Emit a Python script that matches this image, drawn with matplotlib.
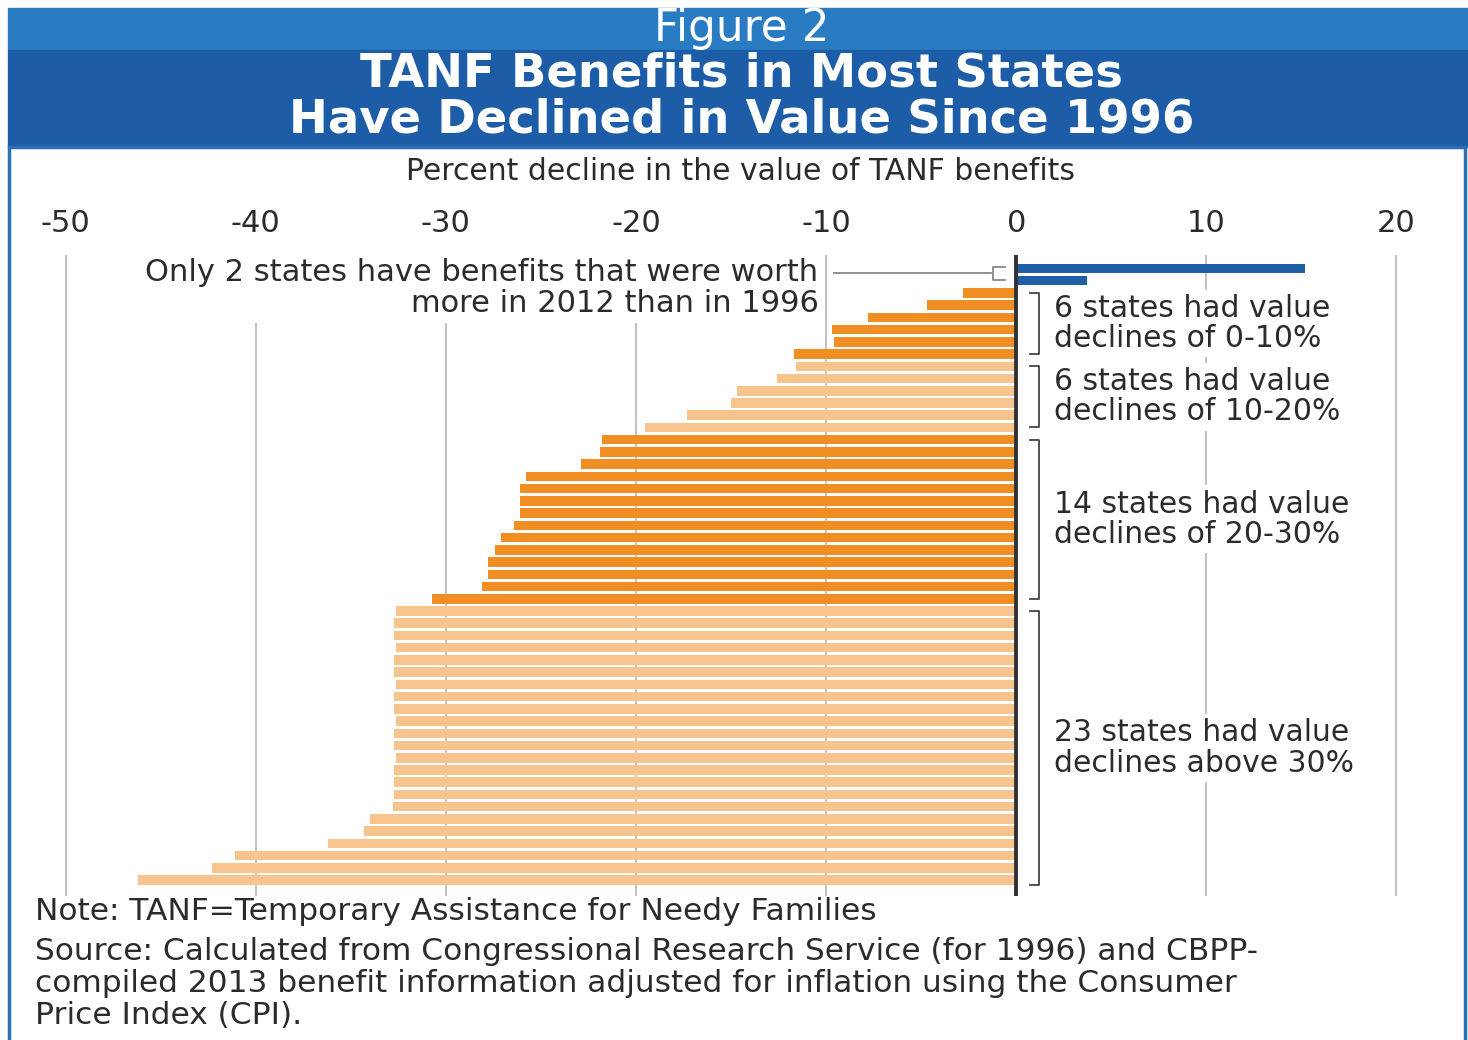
import matplotlib
matplotlib.use('Agg')
import matplotlib.pyplot as plt
from matplotlib.patches import Rectangle

# 数据：各州 TANF 福利价值变化（%），从上到下
gain_values = [15.2, 3.7]
decline_0_10 = [-2.8, -4.7, -7.8, -9.7, -9.6, -11.7]
decline_10_20 = [-11.6, -12.6, -14.7, -15.0, -17.3, -19.5]
decline_20_30 = [-21.8, -21.9, -22.9, -25.8, -26.1, -26.1, -26.1, -26.4,
                 -27.1, -27.4, -27.8, -27.8, -28.1, -30.7]
decline_30_up = [-32.6, -32.7, -32.7, -32.6, -32.7, -32.7, -32.6, -32.7,
                 -32.7, -32.6, -32.7, -32.7, -32.6, -32.7, -32.7, -32.7,
                 -32.8, -34.0, -34.3, -36.2, -41.1, -42.3, -46.2]
x_ticks = [-50, -40, -30, -20, -10, 0, 10, 20]
group_labels = ['6 states had value\ndeclines of 0-10%',
                '6 states had value\ndeclines of 10-20%',
                '14 states had value\ndeclines of 20-30%',
                '23 states had value\ndeclines above 30%']

blue = '#1E5FA6'
dark_orange = '#F08E24'
light_orange = '#F7C48E'
grey_txt = '#2b2b2b'

W, H = 1468, 1040
fig = plt.figure(figsize=(W / 100, H / 100), dpi=100)
fig.patch.set_facecolor('white')


def fy(py):
    return 1 - py / H


def fx(px):
    return px / W


# 标题栏
fig.patches.append(Rectangle((fx(8), fy(50)), fx(1460), fy(8) - fy(50),
                             transform=fig.transFigure, color='#2A7CC2', zorder=0))
fig.patches.append(Rectangle((fx(8), fy(147)), fx(1460), fy(50) - fy(147),
                             transform=fig.transFigure, color='#1D5CA6', zorder=0))
# 外框
fig.patches.append(Rectangle((fx(9), fy(1045)), fx(1456), fy(147) - fy(1045),
                             transform=fig.transFigure, fill=False,
                             edgecolor='#2A6FB8', lw=2.5, zorder=0))

fig.text(fx(742), fy(28), 'Figure 2', color='white', fontsize=31.5,
         ha='center', va='center')
fig.text(fx(742), fy(74), 'TANF Benefits in Most States', color='white',
         fontsize=33.5, fontweight='bold', ha='center', va='center')
fig.text(fx(742), fy(120), 'Have Declined in Value Since 1996', color='white',
         fontsize=33.5, fontweight='bold', ha='center', va='center')
fig.text(fx(740), fy(172), 'Percent decline in the value of TANF benefits',
         color=grey_txt, fontsize=21.5, ha='center', va='center')

# 主图
ax = fig.add_axes([fx(18), fy(896), fx(1444 - 18), fy(255) - fy(896)])
ax.set_facecolor('none')

values = gain_values + decline_0_10 + decline_10_20 + decline_20_30 + decline_30_up
colors = ([blue] * len(gain_values) + [dark_orange] * len(decline_0_10)
          + [light_orange] * len(decline_10_20) + [dark_orange] * len(decline_20_30)
          + [light_orange] * len(decline_30_up))
ypos = list(range(len(values)))
ax.barh(ypos, values, height=0.78, color=colors, zorder=3)

for t in x_ticks:
    if t != 0:
        ax.axvline(t, color='#c4c4c4', lw=1.5, zorder=0)
ax.axvline(0, color='#333333', lw=2.8, zorder=4)

ax.set_xlim(-52.5, 22.5)
ax.set_ylim(51.3, -1.1)
ax.xaxis.tick_top()
ax.set_xticks(x_ticks)
ax.set_xticklabels([str(t) for t in x_ticks])
ax.tick_params(axis='x', length=0, pad=12, labelsize=22, labelcolor=grey_txt)
ax.set_yticks([])
for s in ax.spines.values():
    s.set_visible(False)

# 左侧注释
ax.text(-10.4, 1.6, 'Only 2 states have benefits that were worth\nmore in 2012 than in 1996',
        ha='right', va='center', fontsize=22, color=grey_txt, linespacing=1.05,
        multialignment='right', zorder=1,
        bbox=dict(facecolor='white', edgecolor='none', pad=4))
ax.plot([-9.6, -1.3], [0.35, 0.35], color='#888888', lw=1.3, zorder=2)
ax.plot([-0.6, -1.2, -1.2, -0.6], [-0.15, -0.15, 0.95, 0.95], color='#888888', lw=1.3, zorder=2)

# 右侧分组括号
n0 = len(gain_values)
groups = [decline_0_10, decline_10_20, decline_20_30, decline_30_up]
start = n0
for grp, lab in zip(groups, group_labels):
    y0 = start
    y1 = start + len(grp) - 1
    if grp is decline_30_up:
        y1 += 0.4
    ax.plot([0.7, 1.2, 1.2, 0.7], [y0, y0, y1, y1], color='#444444', lw=1.3, zorder=2)
    ax.text(2.0, (y0 + y1) / 2, lab, ha='left', va='center', fontsize=21.5,
            color=grey_txt, linespacing=1.05, zorder=1,
            bbox=dict(facecolor='white', edgecolor='none', pad=3))
    start += len(grp)

# 注释与来源
note_lines = ['Note: TANF=Temporary Assistance for Needy Families',
              'Source: Calculated from Congressional Research Service (for 1996) and CBPP-',
              'compiled 2013 benefit information adjusted for inflation using the Consumer',
              'Price Index (CPI).']
for py, line in zip([912, 951, 983, 1015], note_lines):
    fig.text(fx(35), fy(py), line, fontsize=22.5, color=grey_txt, va='center')

fig.savefig('out.png', dpi=100)
